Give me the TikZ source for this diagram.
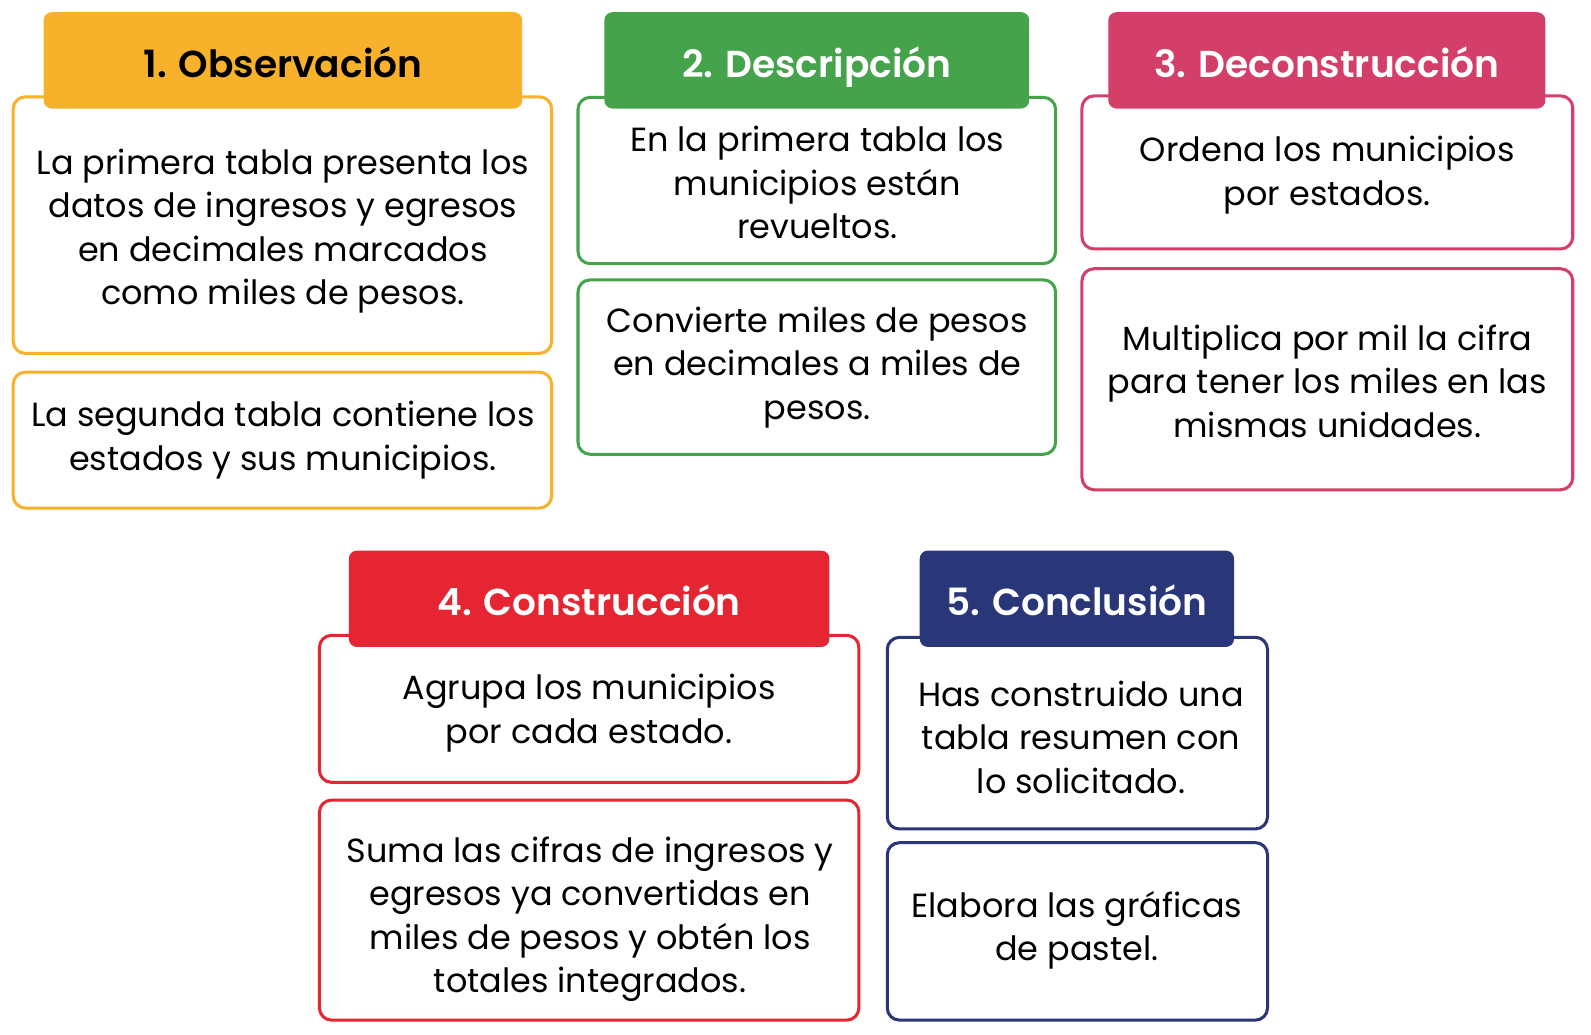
\documentclass[tikz,border=0pt]{standalone}
\usepackage{fontspec}
\setmainfont{Poppins}[BoldFont={Poppins SemiBold}]
\usetikzlibrary{positioning}
\definecolor{obscol}{HTML}{F8B12A}
\definecolor{descol}{HTML}{45A34B}
\definecolor{deccol}{HTML}{D43F6A}
\definecolor{concol}{HTML}{E52531}
\definecolor{clucol}{HTML}{293677}
\tikzset{main header/.style={rectangle,rounded corners=8pt,inner sep=0pt,minimum height=95pt,text height=33pt,text depth=0pt,font=\fontsize{37}{40}\selectfont\bfseries},}
\tikzset{main box/.style={rectangle,draw,line width=3pt,rounded corners=12pt,fill=white,inner sep=0pt},}
\tikzset{main text/.style={inner sep=0pt,align=center,font=\fontsize{33}{43}\selectfont},}

\begin{document}
\begin{tikzpicture}[x=1pt,y=-1pt]
    \useasboundingbox (0,0) rectangle (1569,1020.5);
    % 1. Observacion
    \node[main box, draw=obscol, minimum width=531, minimum height=253] (obs1) at (278.5,222) {};
    \node[main text] (tobs1) at (279,228) {La primera tabla presenta los\\datos de ingresos y egresos\\en decimales marcados\\como miles de pesos.};
    \node[main box, draw=obscol, minimum width=531, minimum height=134] (obs2) at (278.5,434) {};
    \node[main text] (tobs2) at (279,434) {La segunda tabla contiene los\\estados y sus municipios.};
    \node[main header, fill=obscol, minimum width=472] (obs) at (279,59.5) {1. Observación};
    % 2. Descripcion
    \node[main box, draw=descol, minimum width=471, minimum height=164] (des1) at (805.5,178) {};
    \node[main text] (tdes1) at (806,180) {En la primera tabla los\\municipios están\\revueltos.};
    \node[main box, draw=descol, minimum width=471, minimum height=172] (des2) at (805.5,362) {};
    \node[main text] (tdes2) at (806,362.5) {Convierte miles de pesos\\en decimales a miles de\\pesos.};
    \node[main header, fill=descol, text=white, minimum width=419] (des) at (805.5,59.5) {2. Descripción};
    % 3. Deconstruccion
    \node[main box, draw=deccol, minimum width=484, minimum height=151] (dec1) at (1309,170) {};
    \node[main text] (tdec1) at (1309,172.5) {Ordena los municipios\\por estados.};
    \node[main box, draw=deccol, minimum width=484, minimum height=218] (dec2) at (1309,374) {};
    \node[main text] (tdec2) at (1309,376) {Multiplica por mil la cifra\\para tener los miles en las\\mismas unidades.};
    \node[main header, fill=deccol, text=white, minimum width=431] (dec) at (1308.5,59.5) {3. Deconstrucción};
    % 4. Construccion
    \node[main box, draw=concol, minimum width=532, minimum height=145] (con1) at (581,699) {};
    \node[main text] (tcon1) at (581,703.5) {Agrupa los municipios\\por cada estado.};
    \node[main box, draw=concol, minimum width=532, minimum height=217] (con2) at (581,897.5) {};
    \node[main text] (tcon2) at (582,906.5) {Suma las cifras de ingresos y\\egresos ya convertidas en\\miles de pesos y obtén los\\totales integrados.};
    \node[main header, fill=concol, text=white, minimum width=474] (con) at (581,590.5) {4. Construcción};
    % 5. Conclusion
    \node[main box, draw=clucol, minimum width=375, minimum height=189] (clu1) at (1062.5,723) {};
    \node[main text] (tclu1) at (1066,727) {Has construido una\\tabla resumen con\\lo solicitado.};
    \node[main box, draw=clucol, minimum width=375, minimum height=175] (clu2) at (1062.5,918.5) {};
    \node[main text] (tclu2) at (1062,917.5) {Elabora las gráficas\\de pastel.};
    \node[main header, fill=clucol, text=white, minimum width=310] (clu) at (1062,590.5) {5. Conclusión};
\end{tikzpicture}
\end{document}
